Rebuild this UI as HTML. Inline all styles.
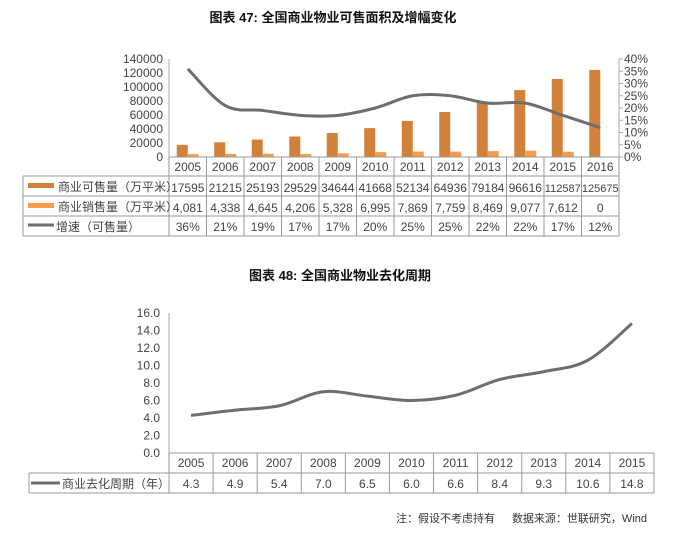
<!DOCTYPE html>
<html><head><meta charset="utf-8"><style>
body{margin:0;background:#fff;width:680px;height:533px;overflow:hidden}
svg{display:block}
text{font-family:"Liberation Sans","Noto Sans CJK SC",sans-serif;fill:#444}
.t{font-weight:bold;fill:#111;font-size:13px}
</style></head><body>
<svg id="c" width="680" height="533" xmlns="http://www.w3.org/2000/svg">
<text class="t" x="333" y="22" text-anchor="middle">图表 47: 全国商业物业可售面积及增幅变化</text>
<text class="t" x="340" y="280" text-anchor="middle">图表 48: 全国商业物业去化周期</text>
<text x="495" y="522" text-anchor="end" style="font-size:11px;fill:#333">注：假设不考虑持有</text>
<text x="647" y="522" text-anchor="end" style="font-size:11px;fill:#333">数据来源：世联研究，Wind</text>
</svg>
<script>
var S=document.getElementById('c'),NS='http://www.w3.org/2000/svg';
function el(t,a,txt){var e=document.createElementNS(NS,t);for(var k in a)e.setAttribute(k,a[k]);if(txt!=null)e.textContent=txt;S.appendChild(e);return e;}
function line(x1,y1,x2,y2,c,w){el('line',{x1:x1,y1:y1,x2:x2,y2:y2,stroke:c||'#999','stroke-width':w||1});}
function txt(x,y,s,anc,sz){el('text',{x:x,y:y,'text-anchor':anc||'middle','font-size':sz||12},s);}
function smooth(p){var d='M'+p[0][0]+','+p[0][1];for(var i=0;i<p.length-1;i++){var p0=p[i-1]||p[i],p1=p[i],p2=p[i+1],p3=p[i+2]||p2;var t=0.17;
d+=' C'+(p1[0]+(p2[0]-p0[0])*t)+','+(p1[1]+(p2[1]-p0[1])*t)+' '+(p2[0]-(p3[0]-p1[0])*t)+','+(p2[1]-(p3[1]-p1[1])*t)+' '+p2[0]+','+p2[1];}return d;}
var yrs=[2005,2006,2007,2008,2009,2010,2011,2012,2013,2014,2015,2016];
var A=[17595,21215,25193,29529,34644,41668,52134,64936,79184,96616,112587,125675];
var B=[4081,4338,4645,4206,5328,6995,7869,7759,8469,9077,7612,0];
var Bs=['4,081','4,338','4,645','4,206','5,328','6,995','7,869','7,759','8,469','9,077','7,612','0'];
var G=[36,21,19,17,17,20,25,25,22,22,17,12];
var x0=169,cw=37.5,y0=157,x1=619;
line(x0,59,x0,157,'#aaa');line(x1,59,x1,157,'#aaa');
for(var i=0;i<=7;i++){var y=157-i*14;txt(x0-6,y+4,String(i*20000),'end');}
for(var i=0;i<=8;i++){var y=157-i*12.25;txt(x1+5,y+4,(i*5)+'%','start');line(x1,y,x1+4,y,'#aaa');}
var pts=[];
for(var i=0;i<12;i++){var cx=x0+cw*i+cw/2;
el('rect',{x:cx-11,y:y0-A[i]*97/140000,width:11,height:A[i]*97/140000,fill:'#D3813A'});
el('rect',{x:cx,y:y0-B[i]*97/140000,width:11,height:B[i]*97/140000,fill:'#F29C4E'});
pts.push([cx,y0-G[i]*2.45]);
txt(cx,171,yrs[i]);txt(cx,192,String(A[i]),'middle',i>=10?11:12);txt(cx,212,Bs[i]);txt(cx,231,G[i]+'%');}
el('path',{d:smooth(pts),fill:'none',stroke:'#6e6e6e','stroke-width':3});
line(x0,157,x1,157,'#999');
[176,196,216,236].forEach(function(y){line(23,y,x1,y,'#999');});
line(23,176,23,236,'#999');
for(var i=0;i<=12;i++)line(x0+cw*i,157,x0+cw*i,236,'#999');
el('rect',{x:28,y:183,width:26,height:5,fill:'#D3813A'});txt(58,191,'商业可售量（万平米）','start');
el('rect',{x:28,y:203,width:26,height:5,fill:'#F29C4E'});txt(58,211,'商业销售量（万平米）','start');
line(28,225,54,225,'#6e6e6e',3);txt(56,231,'增速（可售量）','start');
var y2=[2005,2006,2007,2008,2009,2010,2011,2012,2013,2014,2015];
var V=[4.3,4.9,5.4,7.0,6.5,6.0,6.6,8.4,9.3,10.6,14.8];
var X0=169,CW=44.09,Y0=453,X1=654;
line(X0,313,X0,453,'#aaa');
for(var i=0;i<=8;i++){txt(X0-9,Y0-i*17.5+4,(i*2).toFixed(1),'end');}
var p2=[];
for(var i=0;i<11;i++){var cx=X0+CW*i+CW/2;p2.push([cx,Y0-V[i]*8.75]);txt(cx,467,String(y2[i]));txt(cx,488,V[i].toFixed(1));}
el('path',{d:smooth(p2),fill:'none',stroke:'#6e6e6e','stroke-width':3});
[453,473,493].forEach(function(y){line(y==453?X0:29,y,X1,y,'#999');});
line(29,473,29,493,'#999');
for(var i=0;i<=11;i++)line(X0+CW*i,453,X0+CW*i,493,'#999');
line(31,483,60,483,'#6e6e6e',3);txt(62,488,'商业去化周期（年）','start');
</script>
</body></html>
